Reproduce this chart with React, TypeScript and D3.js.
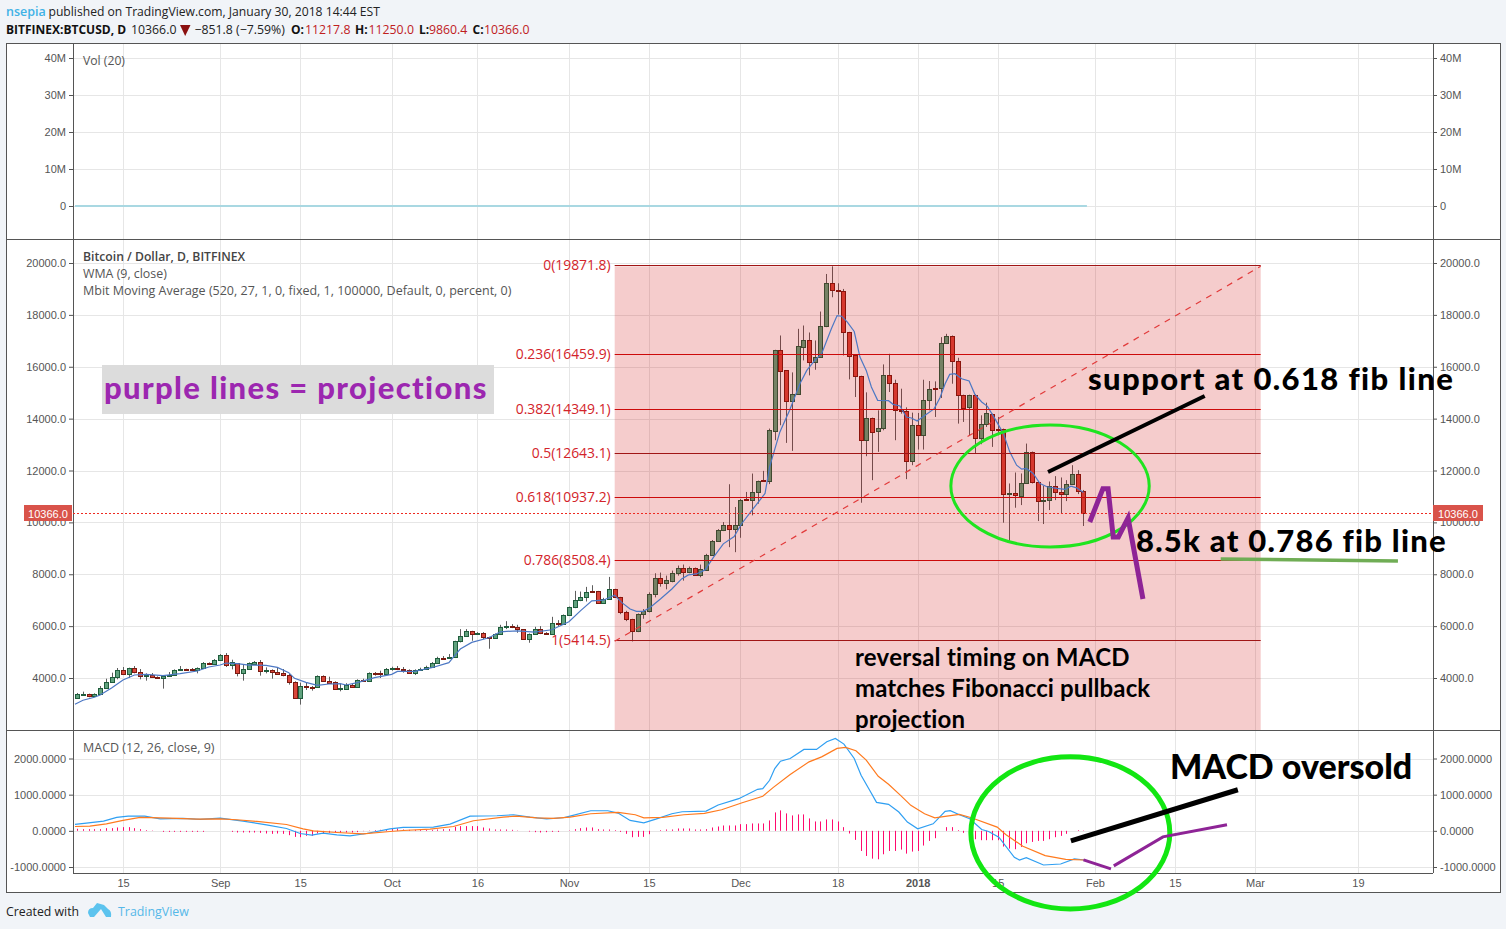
import React, {useEffect, useRef} from 'react';
import * as d3 from 'd3';

// daily candles, first one is 7 Aug 2017, last one 30 Jan 2018
const opens = [
    3231,3359,3385,3295,3385,3615,3846,4038,4308,4141,4385,4218,4064,4115,4038,3987,4077,4115,4295,4346,4333,4295,4385,4577,4526,
    4692,4885,4487,4564,4192,4346,4551,4603,4256,4308,4231,4192,4115,3846,3231,3692,3667,3654,4077,3885,3846,3564,3577,3744,3641,3923,3872,4205,4192,4154,
    4346,4385,4360,4308,4180,4308,4346,4423,4577,4782,4756,4795,5423,5615,5808,5705,5731,5564,5538,5692,5961,6000,5961,5872,5500,5692,5885,5744,5692,6115,6090,
    6423,6731,7000,7115,7346,7346,6910,7064,7423,7115,6526,6256,5795,6464,6568,7238,7858,7651,7754,8038,8245,8077,8245,7974,8168,8748,9290,9715,9909,9741,
    9909,10900,10876,11173,11620,11603,13526,16628,15859,14680,14962,16756,17013,16180,16385,17564,19231,18949,18923,17346,16436,15654,13180,14039,13526,13654,15692,15385,14346,14295,12385,
    13769,13385,14731,15180,15180,16923,17192,16231,14923,14449,14923,13256,13808,14192,13615,13615,11077,11115,11026,11500,12731,11538,10808,10846,11410,11154,11077,11462,11846,11217.8,
];
const closes = [
    3385,3397,3295,3385,3615,3846,4038,4308,4141,4385,4218,4090,4115,4038,3987,4077,4115,4295,4346,4308,4295,4385,4577,4526,4692,
    4885,4487,4603,4192,4346,4577,4615,4269,4308,4218,4167,4103,3846,3231,3692,3641,3641,4077,3885,3821,3577,3603,3744,3641,3923,3872,4192,4167,4141,4346,
    4385,4360,4308,4180,4308,4346,4423,4577,4769,4756,4820,5423,5615,5808,5679,5731,5564,5538,5692,5961,6000,5961,5872,5500,5692,5885,5731,5692,6115,6090,6436,
    6731,7000,7115,7333,7333,6910,7064,7423,7128,6526,6256,5795,6461,6593,7238,7858,7651,7780,8051,8245,8090,8245,7974,8193,8748,9290,9715,9909,9741,9909,
    10876,10876,11173,11599,11599,13551,16628,15833,14680,14962,16782,17013,16180,16385,17590,19231,18949,18923,17346,16410,15641,13180,14039,13487,13654,15692,15372,14346,14295,12385,13769,
    13385,14731,15154,15154,16923,17192,16231,14923,14410,14923,13256,13808,14231,13577,13577,11077,11115,11039,11500,12731,11538,10808,10846,11410,11154,11077,11462,11846,11218,10366,
];
const highs = [
    3423,3474,3397,3410,3692,3974,4205,4385,4423,4400,4462,4346,4180,4192,4064,4090,4231,4333,4462,4359,4385,4410,4615,4603,4731,
    4923,4961,4705,4577,4513,4603,4654,4692,4410,4333,4385,4346,4154,3872,3821,3821,3692,4103,4103,4051,3872,3769,3800,3770,3949,3974,4218,4231,4282,4385,
    4436,4462,4423,4333,4333,4397,4474,4615,4820,4846,4923,5436,5885,5885,5820,5769,5769,5590,5718,6051,6192,6077,6051,5885,5718,5974,6000,5769,6359,6231,6450,
    6756,7359,7333,7513,7577,7359,7090,7897,7440,7128,6590,6282,6487,6658,7303,8038,8064,7948,8141,8335,8374,8296,8258,8374,8787,9320,9740,10012,11470,10592,
    10900,11173,11882,11610,11986,13616,16654,17205,15860,15782,17462,17590,17321,17013,18128,19577,19872,19218,19000,17346,16436,15654,15013,14039,14321,16090,16500,15500,15154,14436,14231,
    14218,15500,15449,15436,17141,17269,17205,16346,14923,14923,14936,14128,14615,14192,14064,13615,11500,11923,11885,13038,12731,11564,11410,11577,11782,11731,11628,12205,12013,11250,
];
const lows = [
    3218,3321,3256,3282,3359,3590,3821,3949,4115,4000,4180,3949,3897,4000,3962,3590,4064,4102,4269,4269,4269,4180,4346,4500,4513,
    4667,4423,4333,4064,3897,4321,4526,4090,4180,3974,4141,4064,3744,3218,2974,3538,3513,3641,3846,3795,3564,3487,3551,3615,3628,3846,3859,4090,4000,4141,
    4282,4346,4205,4167,4115,4295,4321,4410,4551,4718,4744,4769,5372,5590,5436,5667,5500,5128,5513,5667,5885,5923,5744,5487,5359,5667,5692,5667,5680,6000,6077,
    6397,6692,6962,6949,7295,6885,6885,7013,7090,6461,6192,5410,5769,6284,6529,7109,7522,7419,7690,7948,7754,8038,7948,7883,8141,8735,9270,9664,9044,8851,
    9406,10850,10270,10721,11560,11475,13167,13744,13064,12757,14937,16244,15667,15885,16372,17526,18679,18013,16436,15513,14833,10757,12551,11628,12718,13551,15026,13167,14192,11667,12205,
    12808,12808,14321,14064,14795,16885,15346,13808,13872,13359,12654,13013,13679,12910,13359,9987,9295,10564,10667,11500,11500,10051,9936,10474,10859,10333,10821,11436,11090,9860.4,
];

// WMA, day = days after 7 Aug
const wmaDays = [-0.4,1,3,4,6,8,10,12,15,18,21,23,25,26,28,30,33,35,37,38,40,42,44,46,47,49,52,55,56,59,62,65,66,67,69,72,74,77,80,83,86,88,90,92,94,95.2,96.7,97.8,99,100.2,102,104,105.7,106.9,108.3,109.8,111.3,113,114.9,116.2,118,119.4,120.3,121.1,122.9,124.6,126.4,127.6,129,130.2,131.9,132.9,133.7,134.7,135.9,136.9,138,138.9,140,141.9,142.7,143.9,145,145.9,146.9,148.3,149.9,150.9,151.8,152.6,153.5,154.7,156,157,158.2,159.2,160.5,162,163.1,164.3,165.2,166,167.2,168.4,169.6,171.3,172.8,173.8,174.8,176];
const wmaValues = [2990,3141,3256,3346,3615,3923,4115,4141,4090,4167,4269,4423,4500,4577,4551,4500,4487,4410,4205,3987,3833,3718,3769,3782,3731,3821,4013,4141,4256,4256,4397,4590,4859,5115,5372,5551,5782,5820,5769,5859,6167,6590,6974,7000,7192,6916,6658,6568,6568,6722,7045,7432,7819,7974,8012,8167,8657,9173,9457,9947,10463,10859,11116,12141,13487,14321,15346,15859,16244,16500,17462,17974,17949,17718,17359,16372,15859,15218,14705,14692,14551,14487,14064,14026,13910,14128,14385,14808,15346,15705,15731,15538,15449,14936,14641,14474,14000,13423,12718,12205,12051,12077,11885,11500,11372,11308,11269,11397,11333,11154];

const macdDays = [-0.4,1.6,4.6,6.9,8.9,11.8,14.5,18.5,21.5,25,29,33.1,36.6,39,41,43,45.4,47.7,50.6,54.7,57,62.3,65.2,68.7,73.4,76.3,79.2,82.1,85,86.2,89.8,92.8,94.6,96.7,99.1,101.2,104,105.8,110,112.1,115.7,119,119.9,121.1,122,123,124.7,127.1,129.3,131.1,132.6,134.1,135.9,137.1,138.6,139.8,141.9,143.7,145.2,147,149.7,151.8,152.7,154.3,156.1,158.2,159.4,161.2,163.9,164.8,166,169,172,174.4,176.2];
const macdValues = [176,213,269,370,407,407,333,343,315,352,269,167,65,-74,-120,-65,-111,-139,-74,56,93,102,185,407,417,444,380,333,361,407,556,556,491,287,222,324,472,528,546,713,889,1148,1167,1398,1722,1926,2000,2250,2250,2463,2556,2398,2000,1537,1120,787,732,519,241,56,194,537,556,444,333,37,-19,-176,-732,-806,-741,-945,-917,-778,-806];
const signalDays = [-0.4,2.2,5.1,8,11,16.2,20.9,25,27.9,31.4,36.6,39.5,41.3,45.4,50,54.7,57,61.7,65.8,69.3,74.5,76.8,80.4,83.3,86.2,89.8,94.6,97.6,99.1,102.4,106.1,109.7,112.7,116.3,119.9,121.7,124.7,128,130.2,132.9,134.4,136.2,138,140.1,141.9,144,145.8,148.2,150,151.8,154.3,156.4,160.9,162.4,165.4,169.3,172.9,176.2];
const signalValues = [120,130,194,287,370,352,324,333,306,259,176,56,0,-46,-83,-19,9,46,120,278,380,407,361,343,380,472,509,444,361,370,444,482,583,778,954,1195,1556,1908,2046,2278,2306,2213,1954,1509,1287,982,704,472,361,398,454,361,102,-102,-426,-685,-787,-806];
const histogram = [
    56,46,46,46,46,74,74,93,102,102,74,46,19,9,0,-28,-28,-28,-28,-28,-28,-28,-28,0,0,0,0,-28,-46,-46,
    -46,-46,-56,-74,-83,-74,-83,-120,-167,-176,-139,-139,-74,-74,-56,-46,-56,-46,-46,-37,-9,9,19,28,46,56,65,37,28,28,
    37,28,28,37,46,46,111,130,130,130,130,93,65,37,37,37,28,9,0,-19,-37,-46,-37,-28,-28,0,9,
    46,74,93,93,46,37,37,19,-28,-83,-176,-167,-167,-93,0,19,37,37,65,65,65,37,37,46,93,120,148,148,148,185,
    185,204,204,204,287,509,565,482,426,454,454,343,259,259,315,315,259,102,-74,-250,-556,-695,-769,-787,-648,-556,-556,-519,-630,-574,
    -556,-407,-278,-204,0,102,102,19,-56,-111,-232,-259,-259,-259,-259,-435,-491,-509,-444,-343,-306,-278,-278,-232,-176,-139,-83,0,19,9,
];

const volumeDays = [-0.4, 176.6];
const volumeValues = [0, 0];

const fibLevels = ['0', '0.236', '0.382', '0.5', '0.618', '0.786', '1'];
const fibPrices = [19871.8, 16459.9, 14349.1, 12643.1, 10937.2, 8508.4, 5414.5];
const fibStartDay = 94;
const fibEndDay = 207;
const lastPrice = 10366.0;

const priceTicks = [4000, 6000, 8000, 10000, 12000, 14000, 16000, 18000, 20000];
const volumeTicks = [0, 10e6, 20e6, 30e6, 40e6];
const volumeLabels = ['0', '10M', '20M', '30M', '40M'];
const macdTicks = [-1000, 0, 1000, 2000];

const timeTicks = [
    Date.UTC(2017, 7, 15), Date.UTC(2017, 8, 1), Date.UTC(2017, 8, 15), Date.UTC(2017, 9, 1), Date.UTC(2017, 9, 16),
    Date.UTC(2017, 10, 1), Date.UTC(2017, 10, 15), Date.UTC(2017, 11, 1), Date.UTC(2017, 11, 18), Date.UTC(2018, 0, 1),
    Date.UTC(2018, 0, 15), Date.UTC(2018, 1, 1), Date.UTC(2018, 1, 15), Date.UTC(2018, 2, 1), Date.UTC(2018, 2, 19),
];
const timeLabels = ['15', 'Sep', '15', 'Oct', '16', 'Nov', '15', 'Dec', '18', '2018', '15', 'Feb', '15', 'Mar', '19'];

// hand drawn stuff on the chart, also as day / price
const projectionDays = [177.1, 179.4, 180.3, 181.2, 182.1, 183.8, 186.4];
const projectionPrices = [10015, 11300, 11300, 9437, 9437, 10170, 7047];
const macdProjectionDays1 = [176, 180.8];
const macdProjectionValues1 = [-803, -1053];
const macdProjectionDays2 = [181.3, 189.9, 201.1];
const macdProjectionValues2 = [-970, -166, 166];
const supportLineDays = [169.8, 197.2];
const supportLinePrices = [11943, 14873];
const oversoldLineDays = [173.8, 203];
const oversoldLineValues = [-277, 1136];
const underlineDays = [200, 231];
const underlinePrices = [8590, 8510];

const uiFont = '"Open Sans", sans-serif';
const axisFont = '"Liberation Sans", Arial, sans-serif';
const noteFont = 'Lato, sans-serif';

const plotLeft = 73;
const plotRight = 1433;
const frameLeft = 6;
const frameRight = 1500;

function App() {
    const svgRef = useRef<SVGSVGElement>(null);

    useEffect(() => {
        const svg = d3.select(svgRef.current);
        svg.selectAll('*').remove();

        const x = d3.scaleUtc()
            .domain([Date.UTC(2017, 7, 15), Date.UTC(2018, 2, 1)])
            .range([123, 1255]);
        const firstDay = Date.UTC(2017, 7, 7);
        const dayX = (d: number) => x(new Date(firstDay + d * 864e5));

        const volY = d3.scaleLinear().domain([0, 40e6]).range([206, 58]);
        const priceY = d3.scaleLinear().domain([4000, 20000]).range([678, 263]);
        const macdY = d3.scaleLinear().domain([-1000, 2000]).range([867, 758.5]);

        const addText = (parent: any, tx: number, ty: number, str: string, font: string, size: number, fill: string, weight: any = 400, anchor = 'start') =>
            parent.append('text')
                .attr('x', tx).attr('y', ty)
                .attr('font-family', font).attr('font-size', size)
                .attr('font-weight', weight).attr('fill', fill)
                .attr('text-anchor', anchor)
                .text(str);

        const pathFrom = (xs: number[], ys: number[], yScale: any) =>
            d3.line<number>()
                .x(d => dayX(xs[d]))
                .y(d => yScale(ys[d]))(d3.range(xs.length));

        // page and frame
        svg.append('rect').attr('width', 1506).attr('height', 929).attr('fill', '#f1f4f8');
        svg.append('rect')
            .attr('x', frameLeft + 0.5).attr('y', 43.5)
            .attr('width', frameRight - frameLeft).attr('height', 849)
            .attr('fill', '#fff').attr('stroke', '#555');

        // header
        const h1 = 16;
        const h2 = 34;
        addText(svg, 6, h1, 'nsepia', uiFont, 12.5, '#3fb2e6', 600);
        addText(svg, 48.5, h1, 'published on TradingView.com, January 30, 2018 14:44 EST', uiFont, 12.15, '#222');
        addText(svg, 6, h2, 'BITFINEX:BTCUSD, D', uiFont, 12, '#111', 700);
        addText(svg, 131, h2, '10366.0', uiFont, 12.3, '#222');
        svg.append('path')
            .attr('d', d3.line()([[180, 25], [190.5, 25], [185.2, 36]]) + 'Z')
            .attr('fill', '#8b1010');
        addText(svg, 194.5, h2, '\u2212851.8 (\u22127.59%)', uiFont, 12.3, '#222');
        const ohlcLabels = ['O:', 'H:', 'L:', 'C:'];
        const ohlcValues = ['11217.8', '11250.0', '9860.4', '10366.0'];
        const ohlcLabelX = [291, 355, 419, 472.5];
        const ohlcValueX = [305, 368.5, 429, 484];
        ohlcLabels.forEach((l, i) => {
            addText(svg, ohlcLabelX[i], h2, l, uiFont, 12, '#111', 700);
            addText(svg, ohlcValueX[i], h2, ohlcValues[i], uiFont, 12.3, '#c0201e');
        });

        // grid for all three panes
        const grid = svg.append('g').attr('stroke', '#e6e6e6').attr('stroke-width', 1);
        const paneTops = [44, 240, 731];
        const paneBottoms = [239, 730, 873];
        paneTops.forEach((top, i) => {
            grid.append('g').selectAll('line').data(timeTicks).join('line')
                .attr('x1', d => Math.round(x(d)) + 0.5).attr('x2', d => Math.round(x(d)) + 0.5)
                .attr('y1', top).attr('y2', paneBottoms[i]);
        });
        const hGrid = (ticks: number[], scale: any) => grid.append('g').selectAll('line').data(ticks).join('line')
            .attr('x1', plotLeft).attr('x2', plotRight)
            .attr('y1', d => Math.round(scale(d)) + 0.5).attr('y2', d => Math.round(scale(d)) + 0.5);
        hGrid(volumeTicks, volY);
        hGrid(priceTicks, priceY);
        hGrid(macdTicks, macdY);

        // volume pane
        svg.append('path')
            .attr('d', pathFrom(volumeDays, volumeValues, volY))
            .attr('fill', 'none').attr('stroke', '#a9d8e2').attr('stroke-width', 2);

        // candles, the fib box goes over them so they get tinted
        const candles = svg.append('g');
        const idx = d3.range(opens.length);
        candles.selectAll('line').data(idx).join('line')
            .attr('x1', i => Math.round(dayX(i)) + 0.5).attr('x2', i => Math.round(dayX(i)) + 0.5)
            .attr('y1', i => priceY(highs[i])).attr('y2', i => priceY(lows[i]))
            .attr('stroke', '#5e5e5e').attr('stroke-width', 1);
        candles.selectAll('rect').data(idx).join('rect')
            .attr('x', i => Math.round(dayX(i)) - 1.5)
            .attr('width', 4)
            .attr('y', i => Math.round(priceY(Math.max(opens[i], closes[i]))) + 0.5)
            .attr('height', i => Math.max(Math.round(priceY(Math.min(opens[i], closes[i]))) - Math.round(priceY(Math.max(opens[i], closes[i]))), 1))
            .attr('fill', i => closes[i] >= opens[i] ? '#60a27e' : '#d9463a')
            .attr('stroke', i => closes[i] >= opens[i] ? '#1f5c3c' : '#7a1a10')
            .attr('stroke-width', 1);

        // fibonacci retracement
        const fibLeft = dayX(fibStartDay);
        const fibRight = dayX(fibEndDay);
        svg.append('rect')
            .attr('x', fibLeft).attr('y', priceY(fibPrices[0]))
            .attr('width', fibRight - fibLeft).attr('height', 730 - priceY(fibPrices[0]))
            .attr('fill', '#cc0000').attr('opacity', 0.2);
        svg.append('path')
            .attr('d', pathFrom(wmaDays, wmaValues, priceY))
            .attr('fill', 'none').attr('stroke', '#4d78c4').attr('stroke-width', 1.2);
        svg.append('g').selectAll('line').data(fibPrices).join('line')
            .attr('x1', fibLeft).attr('x2', fibRight)
            .attr('y1', d => Math.round(priceY(d)) - 0.5).attr('y2', d => Math.round(priceY(d)) - 0.5)
            .attr('stroke', (d, i) => (i === 0 || i === 3 || i === 6) ? '#a01515' : '#cc0a0a')
            .attr('stroke-width', 1);
        fibLevels.forEach((l, i) => {
            addText(svg, fibLeft - 4, priceY(fibPrices[i]) + 4, `${l}(${fibPrices[i]})`.replace(/\((\d+)\)/, '($1.0)'), uiFont, 13.9, '#d3232a', 400, 'end');
        });
        svg.append('line')
            .attr('x1', fibLeft).attr('y1', priceY(fibPrices[6]))
            .attr('x2', fibRight).attr('y2', priceY(fibPrices[0]))
            .attr('stroke', '#e23b3b').attr('stroke-width', 1.2).attr('stroke-dasharray', '6 6');

        // macd pane
        svg.append('g').selectAll('line').data(histogram).join('line')
            .attr('x1', (d, i) => Math.round(dayX(i)) + 0.5).attr('x2', (d, i) => Math.round(dayX(i)) + 0.5)
            .attr('y1', macdY(0)).attr('y2', d => macdY(d))
            .attr('stroke', '#ff0a6e').attr('stroke-width', 1);
        svg.append('path')
            .attr('d', pathFrom(macdDays, macdValues, macdY))
            .attr('fill', 'none').attr('stroke', '#2f9ff2').attr('stroke-width', 1.2);
        svg.append('path')
            .attr('d', pathFrom(signalDays, signalValues, macdY))
            .attr('fill', 'none').attr('stroke', '#ff7a1e').attr('stroke-width', 1.2);

        // axes
        const styleAxis = (g: any) => {
            g.select('.domain').attr('stroke', '#555');
            g.selectAll('.tick line').attr('stroke', '#555');
            g.selectAll('.tick text').attr('fill', '#555').attr('font-family', axisFont).attr('font-size', 11);
        };
        const volFormat = (d: number) => volumeLabels[volumeTicks.indexOf(d)];
        const macdFormat = (d: number) => d.toFixed(4);
        const priceFormat = (d: number) => d.toFixed(1);
        const sides: [any, any, number[]][] = [
            [volY, volFormat, volumeTicks],
            [priceY, priceFormat, priceTicks],
            [macdY, macdFormat, macdTicks],
        ];
        sides.forEach(([scale, fmt, ticks]) => {
            svg.append('g').attr('transform', `translate(${plotLeft},0)`)
                .call(d3.axisLeft(scale).tickValues(ticks).tickFormat(fmt).tickSize(4).tickSizeOuter(0).tickPadding(3))
                .call(styleAxis).call((g: any) => g.select('.domain').remove());
            svg.append('g').attr('transform', `translate(${plotRight},0)`)
                .call(d3.axisRight(scale).tickValues(ticks).tickFormat(fmt).tickSize(4).tickSizeOuter(0).tickPadding(3))
                .call(styleAxis).call((g: any) => g.select('.domain').remove());
        });
        const bottom = svg.append('g').attr('transform', 'translate(0,873)')
            .call(d3.axisBottom(x).tickValues(timeTicks as any).tickSize(0).tickPadding(6)
                .tickFormat((d: any, i: number) => timeLabels[i]) as any)
            .call(styleAxis);
        bottom.select('.domain').remove();
        bottom.selectAll('.tick text').filter((d: any, i: number) => timeLabels[i] === '2018').attr('font-weight', 700);

        // pane separators
        const rules = svg.append('g').attr('stroke', '#555').attr('stroke-width', 1);
        [[frameLeft, frameRight, 239.5, 239.5], [frameLeft, frameRight, 730.5, 730.5], [plotLeft, plotRight, 873.5, 873.5],
            [plotLeft + 0.5, plotLeft + 0.5, 44, 873], [plotRight + 0.5, plotRight + 0.5, 44, 873]].forEach(r => {
            rules.append('line').attr('x1', r[0]).attr('x2', r[1]).attr('y1', r[2]).attr('y2', r[3]);
        });

        // pane titles
        addText(svg, 83, 65, 'Vol (20)', uiFont, 12.2, '#555');
        addText(svg, 83, 261, 'Bitcoin / Dollar, D, BITFINEX', uiFont, 12.2, '#444', 600);
        addText(svg, 83, 278, 'WMA (9, close)', uiFont, 12.4, '#555');
        addText(svg, 83, 295, 'Mbit Moving Average (520, 27, 1, 0, fixed, 1, 100000, Default, 0, percent, 0)', uiFont, 12.5, '#555');
        addText(svg, 83, 752, 'MACD (12, 26, close, 9)', uiFont, 12.5, '#555');

        // last price line and tags
        const lastY = Math.round(priceY(lastPrice)) + 0.5;
        svg.append('line')
            .attr('x1', plotLeft).attr('x2', plotRight).attr('y1', lastY).attr('y2', lastY)
            .attr('stroke', '#ee2a20').attr('stroke-width', 1).attr('stroke-dasharray', '2 2');
        [[24, 48], [plotRight, 50]].forEach(([tx, tw]) => {
            svg.append('rect').attr('x', tx).attr('y', lastY - 8.5).attr('width', tw).attr('height', 16).attr('fill', '#d9534a');
            addText(svg, tx + tw / 2, lastY + 4, lastPrice.toFixed(1), axisFont, 11, '#fff', 400, 'middle');
        });

        // hand drawn notes
        const notes = svg.append('g').attr('fill', 'none').attr('stroke-linejoin', 'miter');
        notes.append('ellipse')
            .attr('cx', (dayX(152.8) + dayX(187.5)) / 2).attr('cy', (priceY(13755) + priceY(9052)) / 2)
            .attr('rx', (dayX(187.5) - dayX(152.8)) / 2).attr('ry', (priceY(9052) - priceY(13755)) / 2)
            .attr('stroke', '#1fe41f').attr('stroke-width', 3);
        notes.append('ellipse')
            .attr('cx', (dayX(156.3) + dayX(191.1)) / 2).attr('cy', (macdY(2050) + macdY(-2160)) / 2)
            .attr('rx', (dayX(191.1) - dayX(156.3)) / 2).attr('ry', (macdY(-2160) - macdY(2050)) / 2)
            .attr('stroke', '#12e612').attr('stroke-width', 5);
        notes.append('path').attr('d', pathFrom(supportLineDays, supportLinePrices, priceY)).attr('stroke', '#000').attr('stroke-width', 4);
        notes.append('path').attr('d', pathFrom(oversoldLineDays, oversoldLineValues, macdY)).attr('stroke', '#000').attr('stroke-width', 5);
        notes.append('path').attr('d', pathFrom(projectionDays, projectionPrices, priceY)).attr('stroke', '#8e2496').attr('stroke-width', 5);
        notes.append('path').attr('d', pathFrom(macdProjectionDays1, macdProjectionValues1, macdY)).attr('stroke', '#8e2496').attr('stroke-width', 3);
        notes.append('path').attr('d', pathFrom(macdProjectionDays2, macdProjectionValues2, macdY)).attr('stroke', '#8e2496').attr('stroke-width', 3);
        notes.append('path').attr('d', pathFrom(underlineDays, underlinePrices, priceY)).attr('stroke', '#70ad55').attr('stroke-width', 3.5);

        svg.append('rect').attr('x', 102).attr('y', 365).attr('width', 392).attr('height', 49).attr('fill', '#dcdcdc');
        addText(svg, 104, 399, 'purple lines = projections', noteFont, 31, '#9c27b0', 900).attr('letter-spacing', 1.35);
        addText(svg, 1088, 390, 'support at 0.618 fib line', noteFont, 31, '#000', 900).attr('letter-spacing', 1.4);
        addText(svg, 1136, 552, '8.5k at 0.786 fib line', noteFont, 31, '#000', 900).attr('letter-spacing', 1.25);
        addText(svg, 855, 666, 'reversal timing on MACD', noteFont, 24, '#000', 700).attr('letter-spacing', 0.25);
        addText(svg, 855, 697, 'matches Fibonacci pullback', noteFont, 24, '#000', 700).attr('letter-spacing', 0.12);
        addText(svg, 855, 728, 'projection', noteFont, 24, '#000', 700).attr('letter-spacing', 0.12);
        addText(svg, 1170, 779, 'MACD oversold', noteFont, 34, '#000', 900);

        // footer
        addText(svg, 6, 916, 'Created with', uiFont, 12.3, '#222');
        addText(svg, 118, 916, 'TradingView', uiFont, 12.4, '#55b8e8');
        svg.append('path')
            .attr('d', 'M88 913 Q88 908 93 908 L97 903 L104 905 L108 909 Q112 911 111 917 L106 917 L101 909 L94 917 L90 917 Z')
            .attr('fill', '#5cc3ee');
    }, []);

    return (
        <svg ref={svgRef} width={1506} height={929}
             style={{position: 'absolute', left: 0, top: 0, display: 'block'}}/>
    );
}

export default App;
